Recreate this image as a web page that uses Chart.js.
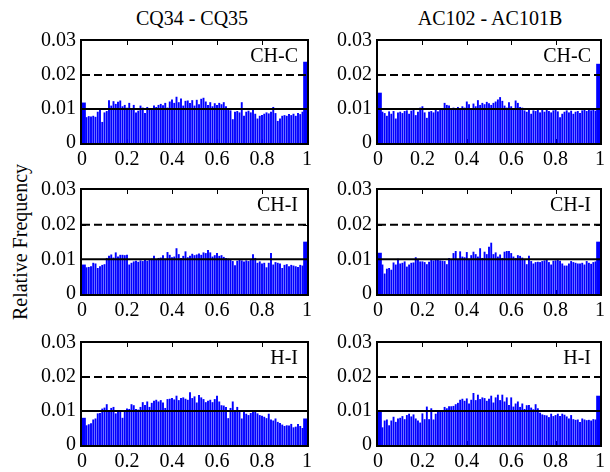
<!DOCTYPE html>
<html>
<head>
<meta charset="utf-8">
<script src="https://cdn.jsdelivr.net/npm/chart.js@4.4.1/dist/chart.umd.min.js"></script>
<style>
  body { margin: 0; background: #fff; }
  #wrap { position: relative; width: 610px; height: 472px; overflow: hidden; font-family: "Liberation Serif", serif; }
  #wrap canvas { position: absolute; }
  .title { position: absolute; top: 8px; font-size: 20px; line-height: 20px; white-space: nowrap; transform: translateX(-50%); }
  #ylab { position: absolute; left: 20px; top: 242px; font-size: 20px; line-height: 20px; white-space: nowrap; transform: translate(-50%, -50%) rotate(-90deg); }
</style>
</head>
<body>
<div id="wrap">
  <div class="title" style="left:192px">CQ34 - CQ35</div>
  <div class="title" style="left:490px">AC102 - AC101B</div>
  <div id="ylab">Relative Frequency</div>
</div>
<script>
// các cột tiêu đề và nhãn ô
const columnTitles = ['CQ34 - CQ35', 'AC102 - AC101B'];
const rowLabels = ['CH-C', 'CH-I', 'H-I'];
const xTicks = [0, 0.2, 0.4, 0.6, 0.8, 1];
const yTicks = [0, 0.01, 0.02, 0.03];
const solidLevel = 0.01;
const dashedLevel = 0.02;

// tâm các bin của histogram (0, 0.01, ..., 1)
const binCenters = [];
for (let i = 0; i <= 100; i++) binCenters.push(i / 100);

// CQ34 - CQ35, CH-C
const cqCHC = [
  0.0118, 0.0090, 0.0076, 0.0079, 0.0078, 0.0080, 0.0077, 0.0092, 0.0098, 0.0062,
  0.0090, 0.0094, 0.0126, 0.0110, 0.0123, 0.0115, 0.0121, 0.0125, 0.0108, 0.0112,
  0.0104, 0.0118, 0.0098, 0.0112, 0.0090, 0.0095, 0.0110, 0.0104, 0.0088, 0.0106,
  0.0102, 0.0098, 0.0110, 0.0106, 0.0112, 0.0115, 0.0111, 0.0118, 0.0104, 0.0122,
  0.0128, 0.0118, 0.0136, 0.0120, 0.0131, 0.0110, 0.0124, 0.0125, 0.0118, 0.0126,
  0.0110, 0.0127, 0.0114, 0.0130, 0.0133, 0.0122, 0.0112, 0.0120, 0.0108, 0.0117,
  0.0112, 0.0118, 0.0114, 0.0120, 0.0108, 0.0103, 0.0096, 0.0070, 0.0092, 0.0094,
  0.0090, 0.0120, 0.0080, 0.0092, 0.0095, 0.0090, 0.0100, 0.0086, 0.0072, 0.0080,
  0.0082, 0.0086, 0.0090, 0.0087, 0.0092, 0.0106, 0.0088, 0.0065, 0.0072, 0.0080,
  0.0082, 0.0080, 0.0085, 0.0082, 0.0086, 0.0080, 0.0088, 0.0085, 0.0092, 0.0096,
  0.0238
];
// AC102 - AC101B, CH-C
const acCHC = [
  0.0147, 0.0090, 0.0092, 0.0088, 0.0080, 0.0093, 0.0086, 0.0094, 0.0072, 0.0090,
  0.0092, 0.0088, 0.0094, 0.0096, 0.0086, 0.0095, 0.0098, 0.0082, 0.0092, 0.0104,
  0.0108, 0.0090, 0.0074, 0.0092, 0.0094, 0.0090, 0.0097, 0.0093, 0.0098, 0.0102,
  0.0118, 0.0112, 0.0110, 0.0100, 0.0104, 0.0098, 0.0106, 0.0102, 0.0108, 0.0104,
  0.0122, 0.0114, 0.0100, 0.0116, 0.0108, 0.0126, 0.0112, 0.0118, 0.0114, 0.0121,
  0.0117, 0.0112, 0.0118, 0.0122, 0.0128, 0.0135, 0.0124, 0.0110, 0.0104, 0.0120,
  0.0108, 0.0100, 0.0125, 0.0118, 0.0106, 0.0104, 0.0096, 0.0092, 0.0099, 0.0086,
  0.0096, 0.0094, 0.0098, 0.0090, 0.0097, 0.0092, 0.0098, 0.0094, 0.0090, 0.0096,
  0.0098, 0.0093, 0.0076, 0.0086, 0.0092, 0.0096, 0.0090, 0.0095, 0.0086, 0.0092,
  0.0094, 0.0088, 0.0096, 0.0100, 0.0094, 0.0098, 0.0096, 0.0100, 0.0095, 0.0108,
  0.0232
];
// CQ34 - CQ35, CH-I
const cqCHI = [
  0.0084, 0.0073, 0.0077, 0.0078, 0.0080, 0.0090, 0.0088, 0.0075, 0.0080, 0.0084,
  0.0086, 0.0104, 0.0110, 0.0114, 0.0105, 0.0120, 0.0108, 0.0113, 0.0113, 0.0112,
  0.0113, 0.0085, 0.0090, 0.0094, 0.0096, 0.0093, 0.0097, 0.0095, 0.0098, 0.0096,
  0.0098, 0.0102, 0.0110, 0.0100, 0.0104, 0.0105, 0.0112, 0.0102, 0.0121, 0.0113,
  0.0106, 0.0108, 0.0132, 0.0115, 0.0104, 0.0110, 0.0123, 0.0106, 0.0110, 0.0116,
  0.0112, 0.0114, 0.0117, 0.0113, 0.0120, 0.0118, 0.0127, 0.0120, 0.0108, 0.0112,
  0.0118, 0.0110, 0.0112, 0.0107, 0.0104, 0.0102, 0.0098, 0.0095, 0.0083, 0.0096,
  0.0100, 0.0097, 0.0094, 0.0097, 0.0095, 0.0098, 0.0115, 0.0104, 0.0090, 0.0094,
  0.0088, 0.0090, 0.0077, 0.0090, 0.0118, 0.0085, 0.0092, 0.0090, 0.0088, 0.0075,
  0.0084, 0.0086, 0.0080, 0.0084, 0.0082, 0.0080, 0.0078, 0.0084, 0.0082, 0.0079,
  0.0150
];
// AC102 - AC101B, CH-I
const acCHI = [
  0.0118, 0.0077, 0.0085, 0.0059, 0.0073, 0.0075, 0.0070, 0.0091, 0.0085, 0.0102,
  0.0088, 0.0090, 0.0094, 0.0079, 0.0085, 0.0090, 0.0091, 0.0106, 0.0098, 0.0094,
  0.0094, 0.0092, 0.0086, 0.0093, 0.0098, 0.0097, 0.0099, 0.0100, 0.0097, 0.0096,
  0.0095, 0.0086, 0.0104, 0.0100, 0.0118, 0.0124, 0.0098, 0.0123, 0.0108, 0.0106,
  0.0121, 0.0102, 0.0112, 0.0122, 0.0115, 0.0108, 0.0132, 0.0104, 0.0122, 0.0115,
  0.0136, 0.0148, 0.0115, 0.0120, 0.0108, 0.0114, 0.0104, 0.0122, 0.0124, 0.0124,
  0.0118, 0.0108, 0.0104, 0.0112, 0.0110, 0.0105, 0.0098, 0.0086, 0.0110, 0.0095,
  0.0088, 0.0092, 0.0093, 0.0092, 0.0095, 0.0097, 0.0100, 0.0092, 0.0085, 0.0096,
  0.0097, 0.0098, 0.0096, 0.0088, 0.0082, 0.0082, 0.0088, 0.0095, 0.0092, 0.0090,
  0.0088, 0.0088, 0.0090, 0.0085, 0.0095, 0.0090, 0.0087, 0.0092, 0.0094, 0.0085,
  0.0150
];
// CQ34 - CQ35, H-I
const cqHI = [
  0.0079, 0.0056, 0.0058, 0.0061, 0.0064, 0.0075, 0.0078, 0.0093, 0.0094, 0.0107,
  0.0110, 0.0120, 0.0098, 0.0109, 0.0112, 0.0093, 0.0100, 0.0098, 0.0080, 0.0103,
  0.0107, 0.0106, 0.0120, 0.0117, 0.0106, 0.0104, 0.0112, 0.0126, 0.0118, 0.0128,
  0.0112, 0.0124, 0.0130, 0.0133, 0.0128, 0.0132, 0.0125, 0.0109, 0.0135, 0.0136,
  0.0138, 0.0134, 0.0145, 0.0132, 0.0138, 0.0140, 0.0136, 0.0133, 0.0155, 0.0138,
  0.0143, 0.0125, 0.0147, 0.0140, 0.0135, 0.0126, 0.0130, 0.0133, 0.0126, 0.0135,
  0.0145, 0.0128, 0.0117, 0.0116, 0.0112, 0.0079, 0.0109, 0.0128, 0.0103, 0.0112,
  0.0097, 0.0078, 0.0098, 0.0092, 0.0088, 0.0094, 0.0097, 0.0102, 0.0093, 0.0088,
  0.0086, 0.0083, 0.0079, 0.0092, 0.0075, 0.0072, 0.0078, 0.0068, 0.0065, 0.0060,
  0.0056, 0.0058, 0.0057, 0.0062, 0.0052, 0.0054, 0.0062, 0.0056, 0.0050, 0.0050,
  0.0077
];
// AC102 - AC101B, H-I
const acHI = [
  0.0097, 0.0075, 0.0052, 0.0072, 0.0075, 0.0058, 0.0072, 0.0083, 0.0068, 0.0078,
  0.0080, 0.0085, 0.0076, 0.0088, 0.0092, 0.0084, 0.0090, 0.0078, 0.0072, 0.0066,
  0.0093, 0.0076, 0.0113, 0.0076, 0.0108, 0.0075, 0.0092, 0.0098, 0.0102, 0.0097,
  0.0112, 0.0108, 0.0114, 0.0114, 0.0115, 0.0120, 0.0124, 0.0133, 0.0136, 0.0130,
  0.0137, 0.0122, 0.0133, 0.0153, 0.0132, 0.0148, 0.0135, 0.0140, 0.0138, 0.0130,
  0.0136, 0.0145, 0.0125, 0.0140, 0.0148, 0.0132, 0.0148, 0.0128, 0.0140, 0.0118,
  0.0140, 0.0113, 0.0122, 0.0128, 0.0112, 0.0122, 0.0106, 0.0117, 0.0118, 0.0110,
  0.0105, 0.0120, 0.0108, 0.0095, 0.0090, 0.0088, 0.0087, 0.0082, 0.0092, 0.0085,
  0.0088, 0.0092, 0.0085, 0.0092, 0.0089, 0.0084, 0.0078, 0.0088, 0.0076, 0.0074,
  0.0075, 0.0068, 0.0078, 0.0075, 0.0073, 0.0074, 0.0072, 0.0076, 0.0075, 0.0068,
  0.0144
];

const panelData = [
  [cqCHC, acCHC],
  [cqCHI, acCHI],
  [cqHI, acHI]
];

// vị trí vùng vẽ (px)
const colLeft = [82, 378];
const colWidth = [225, 222];
const rowTop = [37, 186, 339];
const rowHeight = [106, 108, 106];
const padL = 63, padT = 14, padR = 14, padB = 36;

const SERIF = '"Liberation Serif", serif';
const FONT = { family: SERIF, size: 20 };
Chart.defaults.font.family = SERIF;

function fmt(v) {
  return String(parseFloat(v.toFixed(2)));
}

// khung, vạch chia hướng vào trong, nhãn ô
const framePlugin = {
  id: 'frame',
  beforeDatasetsDraw(chart) {
    const { ctx, chartArea: a, scales } = chart;
    ctx.save();
    ctx.strokeStyle = '#000';
    ctx.lineWidth = 1;
    ctx.beginPath();
    xTicks.slice(1, -1).forEach(v => {
      const px = Math.round(scales.x.getPixelForValue(v)) + 0.5;
      ctx.moveTo(px, a.top); ctx.lineTo(px, a.top + 4);
      ctx.moveTo(px, a.bottom); ctx.lineTo(px, a.bottom - 4);
    });
    yTicks.slice(1, -1).forEach(v => {
      const py = Math.round(scales.y.getPixelForValue(v)) + 0.5;
      ctx.moveTo(a.left, py); ctx.lineTo(a.left + 4, py);
      ctx.moveTo(a.right, py); ctx.lineTo(a.right - 4, py);
    });
    ctx.stroke();
    ctx.restore();
  },
  afterDraw(chart) {
    const { ctx, chartArea: a } = chart;
    ctx.save();
    ctx.strokeStyle = '#000';
    ctx.lineWidth = 2;
    ctx.strokeRect(a.left - 1, a.top - 1, a.right - a.left + 2, a.bottom - a.top + 2);
    ctx.fillStyle = '#000';
    ctx.font = '20px ' + SERIF;
    ctx.textAlign = 'right';
    ctx.textBaseline = 'alphabetic';
    ctx.fillText(chart.options.plugins.frame.label, a.right - 9, a.top + 21);
    ctx.restore();
  }
};

function makePanel(row, col) {
  const values = panelData[row][col];
  const w = colWidth[col] + padL + padR;
  const h = rowHeight[row] + padT + padB;
  const canvas = document.createElement('canvas');
  canvas.width = w;
  canvas.height = h;
  canvas.style.left = (colLeft[col] - padL) + 'px';
  canvas.style.top = (rowTop[row] - padT) + 'px';
  canvas.style.width = w + 'px';
  canvas.style.height = h + 'px';
  document.getElementById('wrap').appendChild(canvas);

  const pts = binCenters.map((x, i) => ({ x: x, y: values[i] }));
  const inner = pts.slice(1, -1);
  const edges = [pts[0], pts[pts.length - 1]];
  const xEnds = [xTicks[0], xTicks[xTicks.length - 1]];

  return new Chart(canvas, {
    type: 'bar',
    data: {
      datasets: [
        {
          type: 'line', order: 0,
          data: xEnds.map(x => ({ x: x, y: dashedLevel })),
          borderColor: '#000', borderWidth: 2, borderDash: [8, 4],
          pointRadius: 0, fill: false
        },
        {
          type: 'line', order: 0,
          data: xEnds.map(x => ({ x: x, y: solidLevel })),
          borderColor: '#000', borderWidth: 2,
          pointRadius: 0, fill: false
        },
        {
          order: 1,
          data: inner,
          backgroundColor: '#0000ff',
          borderWidth: 0,
          grouped: false,
          barPercentage: 0.85,
          categoryPercentage: 1
        },
        {
          // bin ở hai đầu (0 và 1)
          order: 1,
          data: edges,
          backgroundColor: '#0000ff',
          borderWidth: 0,
          grouped: false,
          barThickness: 7
        }
      ]
    },
    options: {
      responsive: false,
      animation: false,
      devicePixelRatio: 1,
      layout: { padding: { left: 0, top: padT, right: padR, bottom: 0 } },
      scales: {
        x: {
          type: 'linear', min: 0, max: 1, offset: false,
          afterBuildTicks: s => { s.ticks = xTicks.map(v => ({ value: v })); },
          afterFit: s => { s.height = padB; },
          ticks: { font: FONT, color: '#000', padding: 5, maxRotation: 0, autoSkip: false, callback: v => fmt(v) },
          grid: { display: false, drawTicks: false },
          border: { display: false }
        },
        y: {
          min: 0, max: 0.03,
          afterBuildTicks: s => { s.ticks = yTicks.map(v => ({ value: v })); },
          afterFit: s => { s.width = padL; },
          ticks: { font: FONT, color: '#000', padding: 6, callback: v => fmt(v) },
          grid: { display: false, drawTicks: false },
          border: { display: false }
        }
      },
      plugins: {
        legend: { display: false },
        tooltip: { enabled: false },
        frame: { label: rowLabels[row] }
      }
    },
    plugins: [framePlugin]
  });
}

function drawAll() {
  for (let r = 0; r < 3; r++) {
    for (let c = 0; c < 2; c++) makePanel(r, c);
  }
}

// chờ font serif sẵn sàng cho canvas
document.fonts.load('20px "Liberation Serif"').then(drawAll, drawAll);
</script>
</body>
</html>
